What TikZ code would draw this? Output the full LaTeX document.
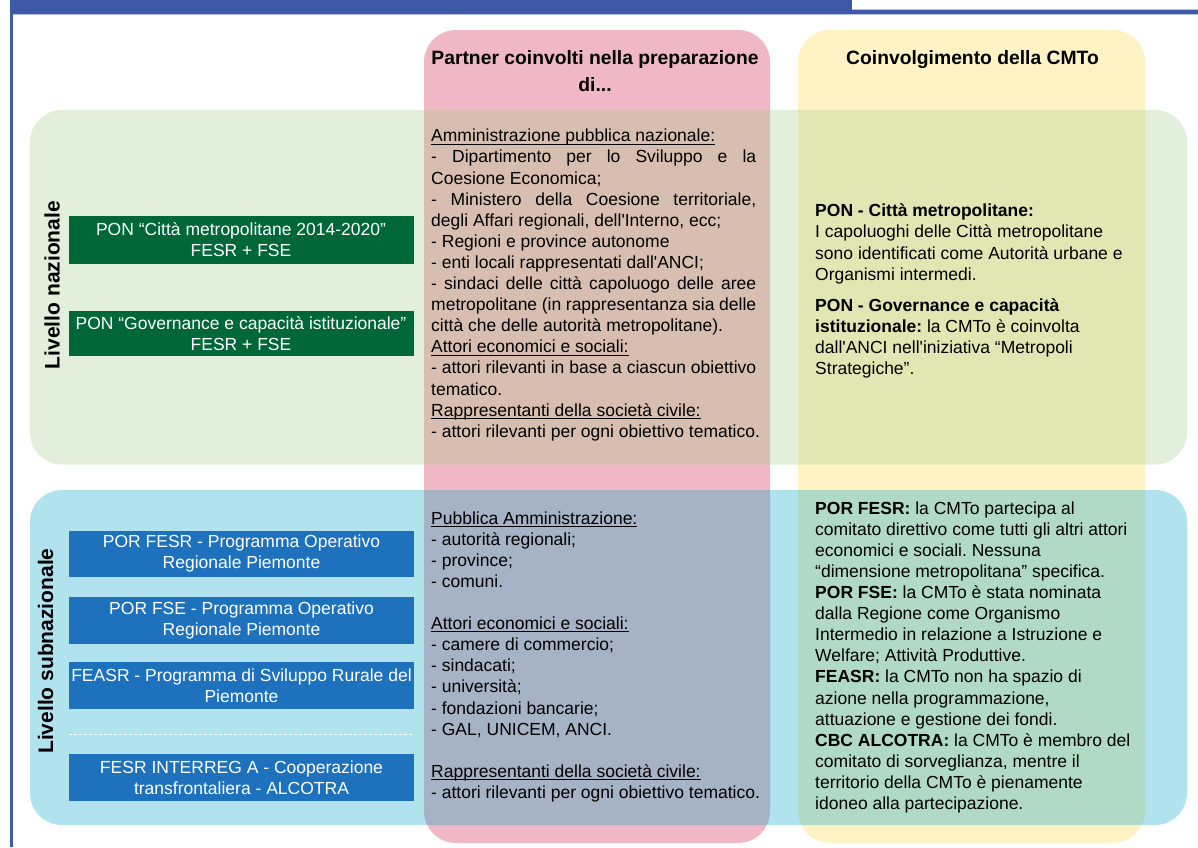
\documentclass[tikz,border=0pt]{standalone}
\usepackage{fontspec}
\setmainfont{Liberation Sans}[Ligatures=TeXOff]
\frenchspacing
\definecolor{framebl}{RGB}{62,89,165}
\definecolor{framelt}{RGB}{180,192,222}
\definecolor{pinkcol}{RGB}{240,184,196}
\definecolor{yelcol}{RGB}{255,243,197}
\definecolor{greenrow}{RGB}{164,205,139}
\definecolor{bluerow}{RGB}{11,167,202}
\definecolor{darkgreen}{RGB}{0,104,56}
\definecolor{boxblue}{RGB}{30,114,189}
\newcommand\ulx[1]{\setbox0\hbox{#1}\rlap{\rule[-2.6pt]{\wd0}{0.8pt}}\box0}
\begin{document}
\begin{tikzpicture}[x=1pt,y=-1pt,
  body/.style={font=\frenchspacing\fontsize{17.5}{21.1}\selectfont, inner sep=0pt, align=left, anchor=north west},
  prog/.style={font=\fontsize{17.5}{21.1}\selectfont, text=white, inner sep=0pt, align=center, minimum width=345pt},
  greenprog/.style={prog, fill=darkgreen},
  blueprog/.style={prog, fill=boxblue},
  head/.style={font=\bfseries\fontsize{19.3}{27}\selectfont, inner sep=0pt},
  level/.style={font=\bfseries\fontsize{21}{25}\selectfont, inner sep=0pt, rotate=90},
  colbox/.style={rounded corners=32pt},
  rowbox/.style={rounded corners=32pt, fill opacity=0.32}]
\useasboundingbox (0,0) rectangle (1198,847);
% columns
\fill[pinkcol, colbox] (424,30) rectangle (770,843);
\fill[yelcol, colbox] (798,30) rectangle (1145,843);
% rows
\fill[greenrow, rowbox] (30,110) rectangle (1187,464.5);
\fill[bluerow, rowbox] (30,490) rectangle (1187,825);
% headers
\node[head, anchor=north, align=center] (hpart) at (595,45.4) {\strut Partner coinvolti nella preparazione\\di...};
\node[head, anchor=base] (hcm) at (972.5,64.3) {Coinvolgimento della CMTo};
% level labels
\node[level] (lvn) at (52,285) {Livello nazionale};
\node[level] (lvs) at (45.5,651) {Livello subnazionale};
% programme boxes
\node[greenprog, minimum height=48.6pt] (pon1) at (241,240) {PON “Città metropolitane 2014-2020”\\FESR + FSE};
\node[greenprog, minimum height=45pt] (pon2) at (241,333.2) {PON “Governance e capacità istituzionale”\\FESR + FSE};
\node[blueprog, minimum height=46.3pt] (por1) at (241.5,553.8) {POR FESR - Programma Operativo\\Regionale Piemonte};
\node[blueprog, minimum height=47.3pt] (por2) at (241.5,620.7) {POR FSE - Programma Operativo\\Regionale Piemonte};
\node[blueprog, minimum height=46.7pt] (feasr) at (241.5,685.7) {FEASR - Programma di Sviluppo Rurale del\\Piemonte};
\node[blueprog, minimum height=46.7pt] (interreg) at (241.5,777.3) {FESR INTERREG A - Cooperazione\\transfrontaliera - ALCOTRA};
\coordinate (dl) at (69,734.3);
\coordinate (dr) at (412,734.3);
\draw[white, line width=1pt, dash pattern=on 3pt off 2pt] (dl) -- (dr);
% middle texts
\node[body] (natpart) at (431,126.9) {\strut\ulx{Amministrazione pubblica nazionale:}\\
\makebox[325pt][s]{- Dipartimento per lo Sviluppo e la}\\
Coesione Economica;\\
\makebox[325pt][s]{- Ministero della Coesione territoriale,}\\
degli Affari regionali, dell'Interno, ecc;\\
- Regioni e province autonome\\
- enti locali rappresentati dall'ANCI;\\
\makebox[325pt][s]{- sindaci delle città capoluogo delle aree}\\
\makebox[325pt][s]{metropolitane (in rappresentanza sia delle}\\
città che delle autorità metropolitane).\\
\ulx{Attori economici e sociali:}\\
\makebox[325pt][s]{- attori rilevanti in base a ciascun obiettivo}\\
tematico.\\
\ulx{Rappresentanti della società civile:}\\
- attori rilevanti per ogni obiettivo tematico.};
\node[body] (subpart) at (431,509.2) {\strut\ulx{Pubblica Amministrazione:}\\
- autorità regionali;\\
- province;\\
- comuni.\\[21.1pt]
\ulx{Attori economici e sociali:}\\
- camere di commercio;\\
- sindacati;\\
- università;\\
- fondazioni bancarie;\\
- GAL, UNICEM, ANCI.\\[21.1pt]
\ulx{Rappresentanti della società civile:}\\
- attori rilevanti per ogni obiettivo tematico.};
% right texts
\node[body] (natcm) at (815,201.9) {\strut\textbf{PON - Città metropolitane:}\\
I capoluoghi delle Città metropolitane\\
sono identificati come Autorità urbane e\\
Organismi intermedi.\\[10pt]
\textbf{PON - Governance e capacità}\\
\textbf{istituzionale:} la CMTo è coinvolta\\
dall'ANCI nell'iniziativa “Metropoli\\
Strategiche”.};
\node[body] (subcm) at (815,499.2) {\strut\textbf{POR FESR:} la CMTo partecipa al\\
comitato direttivo come tutti gli altri attori\\
economici e sociali. Nessuna\\
“dimensione metropolitana” specifica.\\
\textbf{POR FSE:} la CMTo è stata nominata\\
dalla Regione come Organismo\\
Intermedio in relazione a Istruzione e\\
Welfare; Attività Produttive.\\
\textbf{FEASR:} la CMTo non ha spazio di\\
azione nella programmazione,\\
attuazione e gestione dei fondi.\\
\textbf{CBC ALCOTRA:} la CMTo è membro del\\
comitato di sorveglianza, mentre il\\
territorio della CMTo è pienamente\\
idoneo alla partecipazione.};
% frame
\fill[framebl] (10,0) rectangle (852,14);
\fill[framelt] (852,9.3) rectangle (1198,10);
\fill[framebl] (852,10) rectangle (1198,14);
\fill[framelt] (10,14) rectangle (1198,15.3);
\fill[framebl] (10,0) rectangle (13.3,847);
\end{tikzpicture}
\end{document}
